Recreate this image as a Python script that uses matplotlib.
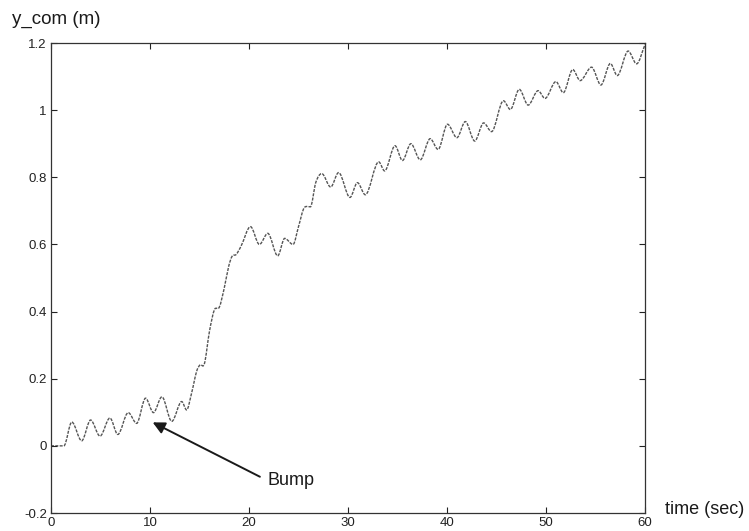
import numpy as np
import matplotlib
matplotlib.use("Agg")
import matplotlib.pyplot as plt
from matplotlib.path import Path
from matplotlib.patches import PathPatch

plt.rcParams["font.family"] = ["Liberation Sans", "DejaVu Sans"]

# Centre-of-mass lateral position over time (turning points and knees of the trace)
time_s = [0, 1.3, 2.1, 3.1, 4.0, 4.95, 5.95, 6.75, 7.8, 8.65, 9.55, 10.35, 11.2,
          12.2, 13.2, 13.7, 14.2, 14.7, 15.05, 15.5, 16.0, 16.5, 17.0, 17.5,
          17.95, 18.3, 18.7, 19.2, 20.15, 21.05, 21.9, 22.9, 23.6, 24.45, 25.0,
          25.5, 25.85, 26.2, 26.75, 27.35, 28.25, 29.05, 30.2, 30.95, 31.75,
          33.1, 33.7, 34.75, 35.5, 36.35, 37.3, 38.3, 39.1, 40.05, 41.0, 41.85,
          42.8, 43.7, 44.5, 45.7, 46.4, 47.3, 48.2, 49.2, 49.9, 51.0, 51.75,
          52.7, 53.45, 54.6, 55.55, 56.5, 57.2, 58.3, 59.15, 60]
y_com_m = [0.0, 0.0, 0.071, 0.015, 0.077, 0.029, 0.083, 0.034, 0.099, 0.067,
           0.142, 0.099, 0.146, 0.073, 0.132, 0.107, 0.157, 0.221, 0.241, 0.245,
           0.34, 0.405, 0.413, 0.47, 0.535, 0.565, 0.57, 0.595, 0.653, 0.600,
           0.633, 0.566, 0.618, 0.600, 0.653, 0.705, 0.713, 0.712, 0.785, 0.811,
           0.771, 0.814, 0.740, 0.784, 0.748, 0.846, 0.819, 0.894, 0.850, 0.900,
           0.852, 0.915, 0.883, 0.958, 0.918, 0.966, 0.908, 0.962, 0.936, 1.028,
           1.002, 1.062, 1.015, 1.058, 1.035, 1.085, 1.052, 1.121, 1.088, 1.128,
           1.075, 1.139, 1.103, 1.176, 1.138, 1.195]

x_ticks = [0, 10, 20, 30, 40, 50, 60]
y_ticks = [-0.2, 0, 0.2, 0.4, 0.6, 0.8, 1, 1.2]
y_tick_labels = ["-0.2", "0", "0.2", "0.4", "0.6", "0.8", "1", "1.2"]

bump_tip = (10.27, 0.070)
bump_tail = (21.1, -0.092)
bump_text = (21.9, -0.102)


def smooth_path(t, y):
    """Cubic Bezier path through the points, flat at turning points."""
    t = np.asarray(t, float)
    y = np.asarray(y, float)
    n = len(t)
    m = np.zeros(n)
    for i in range(n):
        if i == 0:
            m[i] = (y[1] - y[0]) / (t[1] - t[0])
        elif i == n - 1:
            m[i] = (y[-1] - y[-2]) / (t[-1] - t[-2])
        elif (y[i] - y[i - 1]) * (y[i + 1] - y[i]) <= 0:
            m[i] = 0.0
        else:
            m[i] = (y[i + 1] - y[i - 1]) / (t[i + 1] - t[i - 1])
    verts = [(t[0], y[0])]
    codes = [Path.MOVETO]
    for i in range(n - 1):
        h = t[i + 1] - t[i]
        verts += [(t[i] + h / 3, y[i] + m[i] * h / 3),
                  (t[i + 1] - h / 3, y[i + 1] - m[i + 1] * h / 3),
                  (t[i + 1], y[i + 1])]
        codes += [Path.CURVE4] * 3
    return Path(verts, codes)


fig = plt.figure(figsize=(7.49, 5.31), dpi=100)
ax = fig.add_axes([51 / 749, 18 / 531, 594 / 749, 470 / 531])

ax.add_patch(PathPatch(smooth_path(time_s, y_com_m), fill=False,
                       edgecolor="#555555", lw=1.0, linestyle=(0, (2.2, 0.9))))

ax.set_xlim(0, 60)
ax.set_ylim(-0.2, 1.2)
ax.set_xticks(x_ticks)
ax.set_yticks(y_ticks)
ax.set_yticklabels(y_tick_labels)
ax.tick_params(direction="in", length=4.5, width=0.8, top=True, right=True,
               labelsize=9.5, colors="#222222", pad=3)
for s in ax.spines.values():
    s.set_color("#333333")
    s.set_linewidth(0.9)

ax.annotate("", xy=bump_tip, xytext=bump_tail,
            arrowprops=dict(arrowstyle="-|>", color="#1a1a1a", lw=1.4,
                            mutation_scale=18, shrinkA=0, shrinkB=0))
ax.text(bump_text[0], bump_text[1], "Bump", fontsize=13, ha="left",
        va="center", color="#1a1a1a")

fig.text(12 / 749, 1 - 19.5 / 531, "y_com (m)", fontsize=13.5, ha="left",
         va="center", color="#1a1a1a")
fig.text(665 / 749, 1 - 509.5 / 531, "time (sec)", fontsize=13, ha="left",
         va="center", color="#1a1a1a")

fig.savefig("out.png", dpi=100)
